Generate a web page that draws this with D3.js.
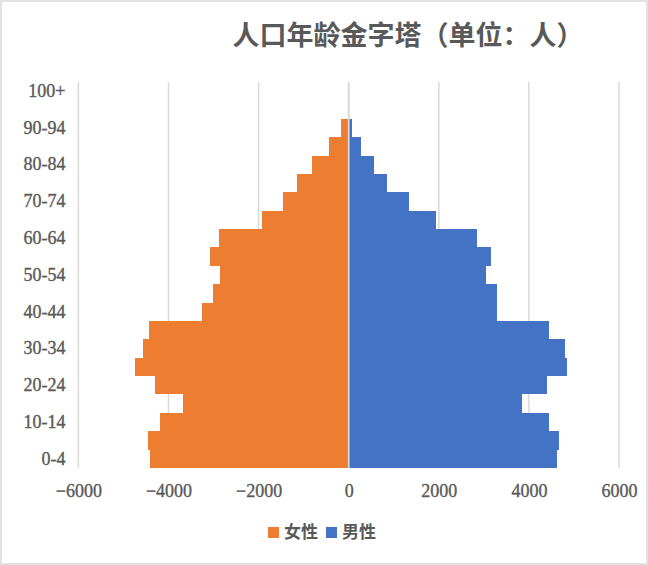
<!DOCTYPE html>
<html>
<head>
<meta charset="utf-8">
<script src="https://cdn.jsdelivr.net/npm/d3@7"></script>
<style>
  body { margin: 0; background: #fff; }
  svg { display: block; }
</style>
</head>
<body>
<svg id="chart" width="648" height="565"></svg>
<script>
// age groups, bottom to top
const ageGroups = ["0-4", "5-9", "10-14", "15-19", "20-24", "25-29", "30-34", "35-39",
  "40-44", "45-49", "50-54", "55-59", "60-64", "65-69", "70-74", "75-79",
  "80-84", "85-89", "90-94", "95-99", "100+"];
const female = [4410, 4454, 4187, 3677, 4298, 4742, 4565, 4432, 3256, 3012, 2857,
  3079, 2879, 1925, 1459, 1148, 815, 437, 171, 0, 0];
const male = [4623, 4668, 4446, 3847, 4401, 4845, 4801, 4446, 3292, 3292, 3048,
  3158, 2848, 1938, 1339, 850, 562, 273, 70, 0, 0];
const xTicks = [-6000, -4000, -2000, 0, 2000, 4000, 6000];
const seriesNames = ["女性", "男性"];

const svg = d3.select("#chart");
const width = +svg.attr("width");
const height = +svg.attr("height");

const orange = "#ED7D31";
const blue = "#4472C4";
const grey = "#D9D9D9";
const textCol = "#595959";
const latin = "'Liberation Serif', 'DejaVu Serif', serif";
const cjk = "'Noto Sans CJK SC', 'Liberation Serif', sans-serif";

// chart border
svg.append("rect")
  .attr("x", 1).attr("y", 1)
  .attr("width", width - 2).attr("height", height - 2)
  .attr("fill", "#fff")
  .attr("stroke", grey)
  .attr("stroke-width", 1.5);

const x = d3.scaleLinear().domain([-6000, 6000]).range([78.4, 619]);
const y = d3.scaleBand().domain(ageGroups).range([468, 82]).padding(0);

// gridlines
svg.append("g")
  .selectAll("line")
  .data(xTicks)
  .enter()
  .append("line")
  .attr("x1", (d) => x(d)).attr("x2", (d) => x(d))
  .attr("y1", 82).attr("y2", 468)
  .attr("stroke", grey)
  .attr("stroke-width", 1.5);

const bars = svg.append("g");

bars.selectAll(".f")
  .data(ageGroups)
  .enter()
  .append("rect")
  .attr("class", "f")
  .attr("x", (d, i) => x(-female[i]))
  .attr("y", (d) => y(d))
  .attr("width", (d, i) => x(0) - x(-female[i]))
  .attr("height", y.bandwidth())
  .attr("fill", orange)
  .attr("shape-rendering", "crispEdges");

bars.selectAll(".m")
  .data(ageGroups)
  .enter()
  .append("rect")
  .attr("class", "m")
  .attr("x", x(0))
  .attr("y", (d) => y(d))
  .attr("width", (d, i) => x(male[i]) - x(0))
  .attr("height", y.bandwidth())
  .attr("fill", blue)
  .attr("shape-rendering", "crispEdges");

// vertical category axis line at 0
svg.append("line")
  .attr("x1", x(0)).attr("x2", x(0))
  .attr("y1", 82).attr("y2", 468)
  .attr("stroke", grey)
  .attr("stroke-width", 1.8);

function styleTicks(sel) {
  sel.select(".domain").remove();
  sel.attr("font-family", null).attr("font-size", null);
  sel.selectAll("text")
    .attr("fill", textCol)
    .attr("stroke", textCol)
    .attr("stroke-width", 0.35)
    .style("font-family", latin)
    .style("font-size", "18px");
}

// y axis labels (every other group)
svg.append("g")
  .attr("transform", `translate(${x(-6000)},0)`)
  .call(
    d3.axisLeft(y)
      .tickValues(ageGroups.filter((d, i) => i % 2 === 0))
      .tickSize(0)
      .tickPadding(13),
  )
  .call(styleTicks);

// x axis labels
svg.append("g")
  .attr("transform", "translate(0,468)")
  .call(
    d3.axisBottom(x)
      .tickValues(xTicks)
      .tickSize(0)
      .tickPadding(16)
      .tickFormat((d) => (d < 0 ? "\u2212" : "") + Math.abs(d)),
  )
  .call(styleTicks);

// title
svg.append("text")
  .attr("x", 408)
  .attr("y", 45)
  .attr("text-anchor", "middle")
  .attr("fill", textCol)
  .style("font-family", cjk)
  .style("font-weight", "bold")
  .style("font-size", "27px")
  .text("人口年龄金字塔（单位：人）");

// legend
const legend = svg.append("g").attr("transform", "translate(268,527)");
const legendItems = [
  { name: seriesNames[0], color: orange, dx: 0 },
  { name: seriesNames[1], color: blue, dx: 58 },
];
const item = legend.selectAll("g")
  .data(legendItems)
  .enter()
  .append("g")
  .attr("transform", (d) => `translate(${d.dx},0)`);
item.append("rect")
  .attr("width", 11).attr("height", 11)
  .attr("fill", (d) => d.color);
item.append("text")
  .attr("x", 16)
  .attr("y", 11)
  .attr("fill", textCol)
  .style("font-family", cjk)
  .style("font-weight", "bold")
  .style("font-size", "17px")
  .text((d) => d.name);
</script>
</body>
</html>
